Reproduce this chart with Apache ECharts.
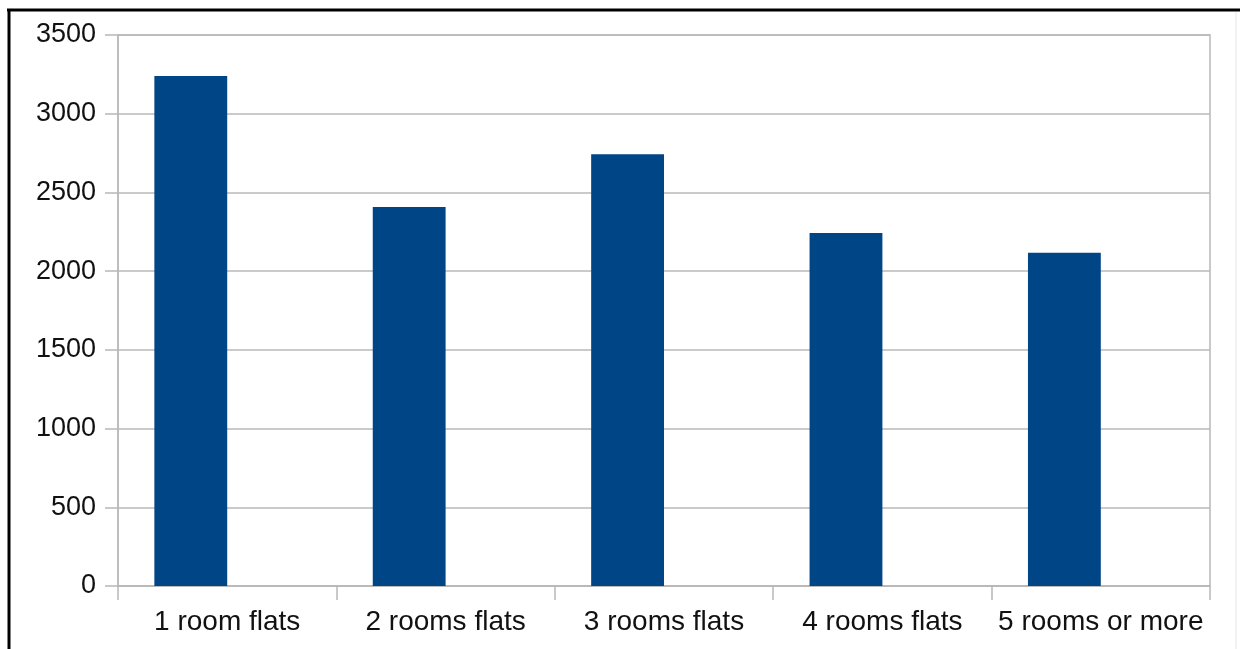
<!DOCTYPE html>
<html>
<head>
<meta charset="utf-8">
<script src="https://cdn.jsdelivr.net/npm/echarts@6/dist/echarts.min.js"></script>
<style>
html,body{margin:0;padding:0;background:#fff;}
#chart{width:1240px;height:649px;}
</style>
</head>
<body>
<div id="chart"></div>
<script>
const categories = ['1 room flats', '2 rooms flats', '3 rooms flats', '4 rooms flats', '5 rooms or more'];
const flatValues = [3240, 2408, 2742, 2242, 2117];
const emptyValues = [null, null, null, null, null];
const yMin = 0;
const yMax = 3500;
const yInterval = 500;

const chart = echarts.init(document.getElementById('chart'), null, {renderer: 'canvas'});
const gridColor = '#b8b8b8';
const textColor = '#111111';
const font = 'Liberation Sans, Arial, sans-serif';

chart.setOption({
  animation: false,
  backgroundColor: '#ffffff',
  grid: {
    left: 118, right: 30, top: 35, bottom: 63,
    show: true, borderColor: gridColor, borderWidth: 1.5, backgroundColor: 'transparent'
  },
  xAxis: {
    type: 'category',
    data: categories,
    boundaryGap: true,
    axisLine: {lineStyle: {color: gridColor, width: 1.5}},
    axisTick: {show: true, length: 14, alignWithLabel: false, lineStyle: {color: gridColor, width: 1.5}},
    axisLabel: {color: textColor, fontSize: 28, fontFamily: font, margin: 22, interval: 0}
  },
  yAxis: {
    type: 'value',
    min: yMin, max: yMax, interval: yInterval,
    axisLine: {show: true, lineStyle: {color: gridColor, width: 1.5}},
    axisTick: {show: true, length: 13, lineStyle: {color: gridColor, width: 1.5}},
    splitLine: {show: true, lineStyle: {color: gridColor, width: 1.5}},
    axisLabel: {color: textColor, fontSize: 27, fontFamily: font, margin: 22, formatter: (v) => String(v)}
  },
  series: [
    {
      type: 'bar',
      name: 'flats',
      data: flatValues,
      barGap: '0%',
      barCategoryGap: '33.3%',
      itemStyle: {color: '#004586'}
    },
    {
      type: 'bar',
      name: 'empty',
      data: emptyValues,
      barGap: '0%',
      barCategoryGap: '33.3%',
      itemStyle: {color: '#ff420e'}
    }
  ],
  graphic: [
    {type: 'line', shape: {x1: 7, y1: 10, x2: 1240, y2: 10}, style: {stroke: '#000', lineWidth: 3}},
    {type: 'line', shape: {x1: 9, y1: 9, x2: 9, y2: 649}, style: {stroke: '#000', lineWidth: 3}},
    {type: 'line', shape: {x1: 1236, y1: 12, x2: 1236, y2: 649}, style: {stroke: '#e6e6e6', lineWidth: 1}}
  ]
});
</script>
</body>
</html>
